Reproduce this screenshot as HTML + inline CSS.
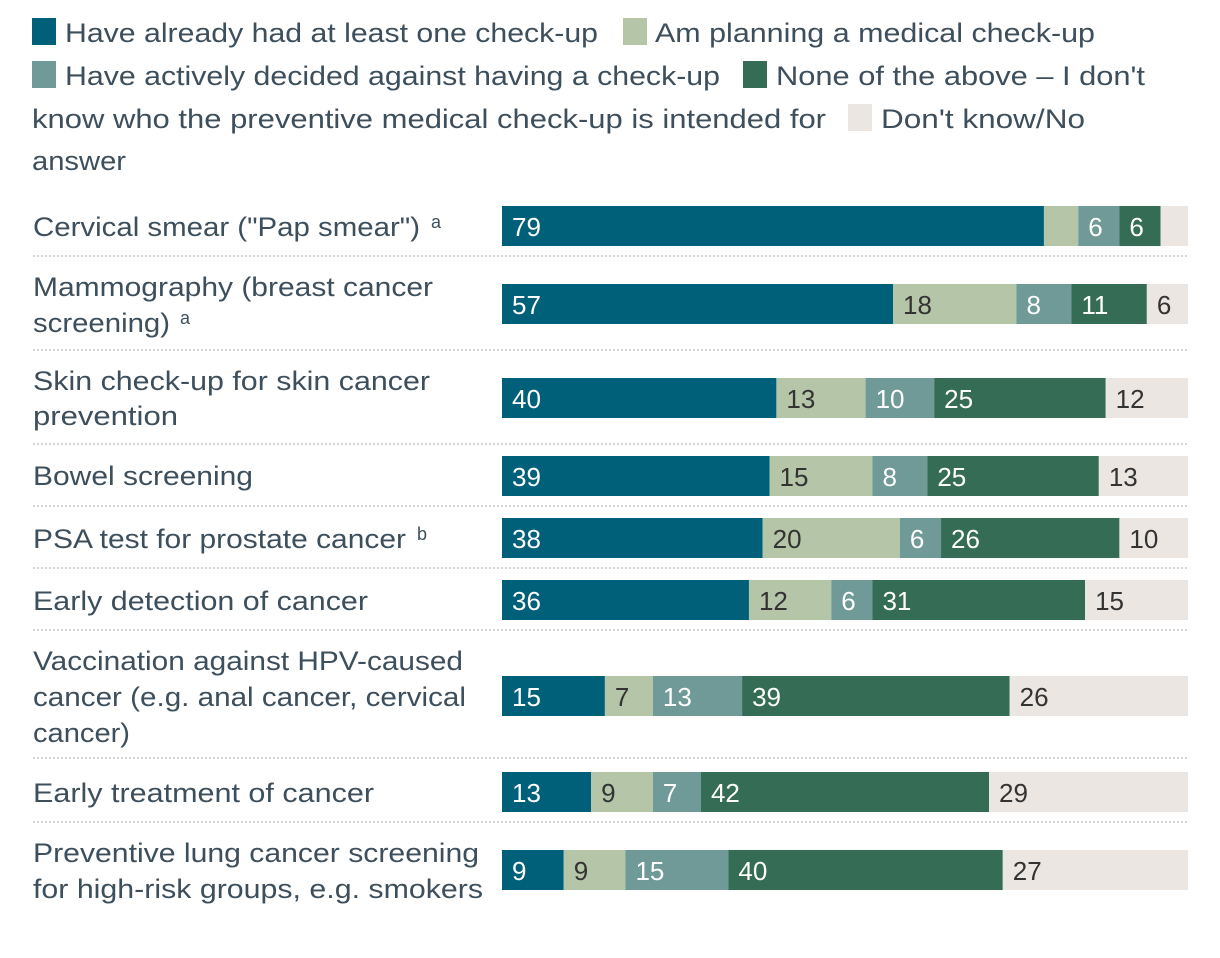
<!DOCTYPE html>
<html><head><meta charset="utf-8"><style>
html,body{margin:0;padding:0;background:#fff;}
svg{display:block;font-family:"Liberation Sans",sans-serif;}
</style></head><body>
<svg id="chart" width="1220" height="958">
<g id="legend" fill="#3d4f5c" font-size="27">
  <rect x="32" y="18" width="24" height="27" fill="#00607a"/>
  <text x="65" y="42" textLength="533" lengthAdjust="spacingAndGlyphs">Have already had at least one check-up</text>
  <rect x="623" y="18" width="24" height="27" fill="#b4c5a8"/>
  <text x="655" y="42" textLength="440" lengthAdjust="spacingAndGlyphs">Am planning a medical check-up</text>
  <rect x="32" y="61" width="24" height="27" fill="#6f9a98"/>
  <text x="65" y="85" textLength="655" lengthAdjust="spacingAndGlyphs">Have actively decided against having a check-up</text>
  <rect x="743" y="61" width="24" height="27" fill="#346c55"/>
  <text x="776" y="85" textLength="369" lengthAdjust="spacingAndGlyphs">None of the above – I don't</text>
  <text x="32" y="128" textLength="794" lengthAdjust="spacingAndGlyphs">know who the preventive medical check-up is intended for</text>
  <rect x="848" y="104" width="24" height="27" fill="#ebe6e2"/>
  <text x="881" y="128" textLength="204" lengthAdjust="spacingAndGlyphs">Don't know/No</text>
  <text x="32" y="170" textLength="94" lengthAdjust="spacingAndGlyphs">answer</text>
</g>
<g id="labels" fill="#3d4f5c" font-size="27">
  <text x="33" y="236" textLength="387" lengthAdjust="spacingAndGlyphs">Cervical smear ("Pap smear")</text>
  <text x="431" y="228" font-size="18">a</text>
  <text x="33" y="296" textLength="400" lengthAdjust="spacingAndGlyphs">Mammography (breast cancer</text>
  <text x="33" y="332" textLength="137" lengthAdjust="spacingAndGlyphs">screening)</text>
  <text x="180" y="324" font-size="18">a</text>
  <text x="33" y="390" textLength="397" lengthAdjust="spacingAndGlyphs">Skin check-up for skin cancer</text>
  <text x="33" y="425" textLength="145" lengthAdjust="spacingAndGlyphs">prevention</text>
  <text x="33" y="485" textLength="220" lengthAdjust="spacingAndGlyphs">Bowel screening</text>
  <text x="33" y="548" textLength="373" lengthAdjust="spacingAndGlyphs">PSA test for prostate cancer</text>
  <text x="417" y="540" font-size="18">b</text>
  <text x="33" y="610" textLength="335" lengthAdjust="spacingAndGlyphs">Early detection of cancer</text>
  <text x="33" y="670" textLength="430" lengthAdjust="spacingAndGlyphs">Vaccination against HPV-caused</text>
  <text x="33" y="706" textLength="433" lengthAdjust="spacingAndGlyphs">cancer (e.g. anal cancer, cervical</text>
  <text x="33" y="742" textLength="97" lengthAdjust="spacingAndGlyphs">cancer)</text>
  <text x="33" y="802" textLength="341" lengthAdjust="spacingAndGlyphs">Early treatment of cancer</text>
  <text x="33" y="862" textLength="446" lengthAdjust="spacingAndGlyphs">Preventive lung cancer screening</text>
  <text x="33" y="898" textLength="450" lengthAdjust="spacingAndGlyphs">for high-risk groups, e.g. smokers</text>
</g>
<g id="bars"></g>
<g id="grid"></g>
</svg>
<script>
const categories = ["Cervical smear","Mammography","Skin check-up","Bowel screening","PSA test","Early detection","HPV vaccination","Early treatment","Lung screening"];
const hadCheckup = [79,57,40,39,38,36,15,13,9];
const planning = [5,18,13,15,20,12,7,9,9];
const decidedAgainst = [6,8,10,8,6,6,13,7,15];
const noneOfAbove = [6,11,25,25,26,31,39,42,40];
const dontKnow = [4,6,12,13,10,15,26,29,27];
const seriesNames = ["had-checkup","planning","decided-against","none","dont-know"];

const series = [hadCheckup, planning, decidedAgainst, noneOfAbove, dontKnow];
const colors = ["#00607a","#b4c5a8","#6f9a98","#346c55","#ebe6e2"];
const textColors = ["#fff","#333","#fff","#fff","#333"];
const barTops = [206,284,378,456,518,580,676,772,850];
const seps = [256,350,444,506,568,630,758,822];
const x0 = 502, scale = 686/100, barH = 40;
const xPos = v => x0 + v*scale;
const NS = "http://www.w3.org/2000/svg";
const gb = document.getElementById("bars");
categories.forEach((c,i)=>{
  let cum = 0;
  series.forEach((s,k)=>{
    const v = s[i];
    const r = document.createElementNS(NS,"rect");
    r.setAttribute("x", xPos(cum));
    r.setAttribute("y", barTops[i]);
    r.setAttribute("width", v*scale);
    r.setAttribute("height", barH);
    r.setAttribute("fill", colors[k]);
    
    
    gb.appendChild(r);
    if (v >= 6) {
      const t = document.createElementNS(NS,"text");
      t.setAttribute("x", xPos(cum)+10);
      t.setAttribute("y", barTops[i]+30);
      t.setAttribute("font-size","26");
      t.setAttribute("fill", textColors[k]);
      t.textContent = v;
      
      
      gb.appendChild(t);
    }
    cum += v;
  });
});
const gg = document.getElementById("grid");
seps.forEach(y=>{
  const l = document.createElementNS(NS,"line");
  l.setAttribute("x1",33); l.setAttribute("x2",1188);
  l.setAttribute("y1",y); l.setAttribute("y2",y);
  l.setAttribute("stroke","#d6d6d6"); l.setAttribute("stroke-width","2");
  l.setAttribute("stroke-dasharray","2,2");
  
  
  gg.appendChild(l);
});
</script>
</body></html>
